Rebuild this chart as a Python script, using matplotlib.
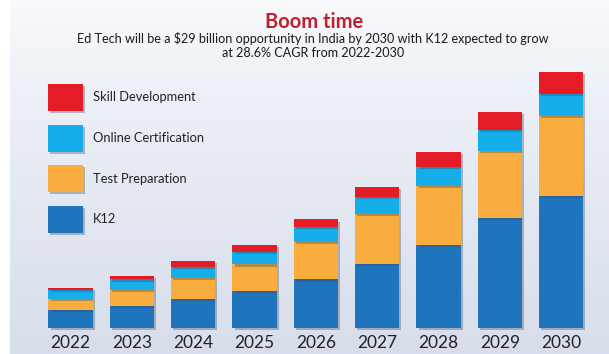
import numpy as np
import matplotlib.pyplot as plt
import matplotlib.patheffects as pe

plt.rcParams['font.family'] = ['Liberation Sans Narrow', 'DejaVu Sans Condensed', 'Lato', 'DejaVu Sans']
plt.rcParams['font.stretch'] = 'condensed'

# valores em US$ bilhões por segmento
anos = ['2022', '2023', '2024', '2025', '2026', '2027', '2028', '2029', '2030']
k12 = [2.0, 2.5, 3.3, 4.2, 5.5, 7.3, 9.4, 12.5, 15.0]
test_prep = [1.25, 1.85, 2.4, 3.0, 4.25, 5.6, 6.7, 7.6, 9.0]
online_cert = [1.1, 1.15, 1.2, 1.4, 1.65, 1.9, 2.15, 2.35, 2.55]
skill_dev = [0.2, 0.35, 0.7, 0.85, 0.9, 1.2, 1.65, 2.05, 2.45]

series = [
    ('K12', k12, '#1f74be'),
    ('Test Preparation', test_prep, '#f8ad3e'),
    ('Online Certification', online_cert, '#16aeea'),
    ('Skill Development', skill_dev, '#e41c26'),
]

W, H = 609, 354
fig = plt.figure(figsize=(W / 100, H / 100), dpi=100)
fig.patch.set_facecolor('white')

# fundo em degradê
bg = fig.add_axes([10 / W, 0, 1 - 10 / W, 1])
grad = np.linspace(0, 1, 256)[:, None]
top = np.array([0.975, 0.980, 0.990])
bot = np.array([0.845, 0.870, 0.920])
img = top + (bot - top) * grad[..., None] ** 0.8
bg.imshow(img, aspect='auto', extent=[0, 1, 0, 1])
bg.axis('off')

# eixo começa na linha de base das barras
base_px = 26
ax = fig.add_axes([0, base_px / H, 1, 1 - base_px / H])
ax.patch.set_alpha(0)
px_x = 61.34
px_y = 256 / 29
ax.set_xlim(-70.5 / px_x, (W - 70.5) / px_x)
ax.set_ylim(0, (H - base_px) / px_y)

x = np.arange(len(anos))
base = np.zeros(len(anos))
sombra = [pe.SimplePatchShadow(offset=(1.5, -1.5), alpha=0.35, shadow_rgbFace='#404858'), pe.Normal()]
barras = []
for nome, vals, cor in series:
    b = ax.bar(x, vals, 0.72, bottom=base, color=cor, label=nome, zorder=3, clip_on=False)
    for r in b:
        r.set_path_effects(sombra)
    barras.append(b)
    base = base + np.array(vals)

for s in ax.spines.values():
    s.set_visible(False)
ax.set_yticks([])
ax.set_xticks(x, anos)
ax.tick_params(axis='x', length=0, pad=5, labelsize=12.5, labelcolor='#222222')

leg = ax.legend(handles=barras[::-1], loc='upper left',
                bbox_to_anchor=(48 / W, 1 - 84 / H), bbox_transform=fig.transFigure,
                frameon=False, fontsize=9.3, handlelength=2.7, handleheight=2.85,
                labelspacing=1.05, handletextpad=0.75, borderpad=0,
                borderaxespad=0, labelcolor='#222222')
for h in leg.legend_handles:
    h.set_path_effects(sombra)

fig.text(314 / W, 1 - 22 / H, 'Boom time', ha='center', va='center',
         fontsize=14.5, fontweight='bold', color='#c0202e')
fig.text(313 / W, 1 - 45.5 / H,
         'Ed Tech will be a $29 billion opportunity in India by 2030 with K12 expected to grow\n'
         'at 28.6% CAGR from 2022-2030',
         ha='center', va='center', fontsize=9.1, color='#1a1a1a', linespacing=1.2)

fig.savefig('out.png', dpi=100)
